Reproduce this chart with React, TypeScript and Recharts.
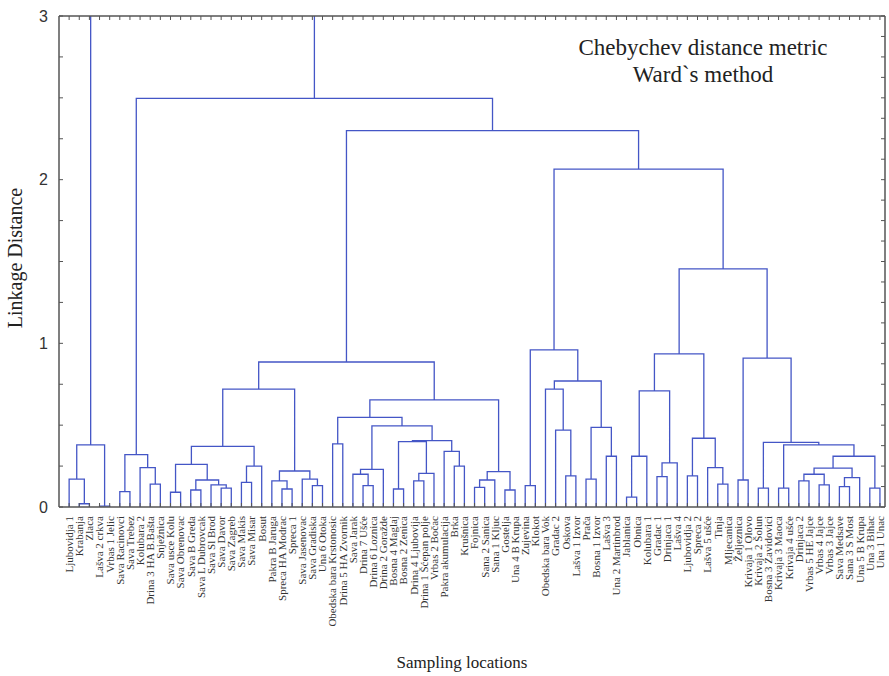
import React from 'react';
import { LineChart, Line, XAxis, YAxis } from 'recharts';

// sampling locations in dendrogram order (left to right)
const leafNames = [
  'Ljubovidja 1', 'Krabanja', 'Zlaca', 'Lašva 2 crkva', 'Vrbas 1 Jelic', 'Sava Racinovci', 'Sava Trebez',
  'Kolubara 2', 'Drina 3 HA B.Bašta', 'Snježnica', 'Sava usce Kolu', 'Sava Obrenovac', 'Sava B Greda',
  'Sava L Dubrovcak', 'Sava Sl Brod', 'Sava Davor', 'Sava Zagreb', 'Sava Makis', 'Sava Misar', 'Bosut',
  'Pakra B Jaruga', 'Spreca HA Modrac', 'Spreca 1', 'Sava Jasenovac', 'Sava Gradiska', 'Una 6 Otoka',
  'Obedska bara Krstonosic', 'Drina 5 HA Zvornik', 'Sava Jarak', 'Drina 7 Ušće', 'Drina 6 Loznica',
  'Drina 2 Goražde', 'Bosna 4 Maglaj', 'Bosna 2 Zenica', 'Drina 4 Ljubovija', 'Drina 1 Šćepan polje',
  'Vrbas 2 Bočac', 'Pakra akumulacija', 'Brka', 'Krušnica', 'Fojnica', 'Sana 2 Sanica', 'Sana 1 Kljuc',
  'Gostelja', 'Una 4 B Krupa', 'Zujevina', 'Klokot', 'Obedska bara Vok', 'Gradac 2', 'Oskova',
  'Lašva 1 Izvor', 'Prača', 'Bosna 1 Izvor', 'Lašva 3', 'Una 2 Martinbrod', 'Jablanica', 'Obnica',
  'Kolubara 1', 'Gradac 1', 'Drinjaca 1', 'Lašva 4', 'Ljubovidja 2', 'Spreca 2', 'Lašva 5 ušće', 'Tinja',
  'Mljecanica', 'Željeznica', 'Krivaja 1 Olovo', 'Krivaja 2 Šolun', 'Bosna 3 Zavidovici', 'Krivaja 3 Maoca',
  'Krivaja 4 ušće', 'Drinjaca 2', 'Vrbas 5 HE Jajce', 'Vrbas 4 Jajce', 'Vrbas 3 Jajce', 'Sava Medsave',
  'Sana 3 S Most', 'Una 5 B Krupa', 'Una 3 Bihac', 'Una 1 Unac',
];

// linkage: [id, left, right, height]; numbers = leaf position (1-based), strings = earlier merges
const merges: [string, number | string, number | string, number][] = [
  ['m1', 2, 3, 0.02], ['m2', 1, 'm1', 0.17], ['m3', 4, 5, 0.005], ['m4', 'm2', 'm3', 0.38],
  ['m5', 6, 7, 0.094], ['m6', 9, 10, 0.14], ['m7', 8, 'm6', 0.24], ['m8', 'm5', 'm7', 0.32],
  ['m9', 11, 12, 0.09], ['m10', 13, 14, 0.104], ['m11', 16, 17, 0.115], ['m12', 15, 'm11', 0.135],
  ['m13', 'm10', 'm12', 0.165], ['m14', 'm9', 'm13', 0.26], ['m15', 18, 19, 0.15], ['m16', 'm15', 20, 0.25],
  ['m17', 'm14', 'm16', 0.37],
  ['m18', 22, 23, 0.11], ['m19', 21, 'm18', 0.16], ['m20', 25, 26, 0.13], ['m21', 24, 'm20', 0.17],
  ['m22', 'm19', 'm21', 0.22], ['m23', 'm17', 'm22', 0.72],
  ['m24', 27, 28, 0.386], ['m25', 30, 31, 0.13], ['m26', 29, 'm25', 0.2], ['m27', 'm26', 32, 0.23],
  ['m28', 33, 34, 0.11], ['m29', 35, 36, 0.16], ['m30', 'm29', 37, 0.206], ['m31', 'm28', 'm30', 0.4],
  ['m32', 39, 40, 0.25], ['m33', 38, 'm32', 0.34], ['m34', 'm31', 'm33', 0.405], ['m35', 'm27', 'm34', 0.496],
  ['m36', 'm24', 'm35', 0.547], ['m37', 41, 42, 0.12], ['m38', 'm37', 43, 0.165], ['m39', 44, 45, 0.104],
  ['m40', 'm38', 'm39', 0.216], ['m41', 'm36', 'm40', 0.655], ['m42', 'm23', 'm41', 0.886],
  ['m43', 46, 47, 0.13], ['m44', 50, 51, 0.19], ['m45', 49, 'm44', 0.47], ['m46', 48, 'm45', 0.72],
  ['m47', 52, 53, 0.17], ['m48', 54, 55, 0.31], ['m49', 'm47', 'm48', 0.486], ['m50', 'm46', 'm49', 0.77],
  ['m51', 'm43', 'm50', 0.96],
  ['m52', 56, 57, 0.06], ['m53', 'm52', 58, 0.31], ['m54', 59, 60, 0.185], ['m55', 'm54', 61, 0.27],
  ['m56', 'm53', 'm55', 0.71], ['m57', 62, 63, 0.19], ['m58', 65, 66, 0.14], ['m59', 64, 'm58', 0.24],
  ['m60', 'm57', 'm59', 0.42], ['m61', 'm56', 'm60', 0.935],
  ['m62', 67, 68, 0.165], ['m63', 69, 70, 0.115], ['m64', 71, 72, 0.115], ['m65', 73, 74, 0.16],
  ['m66', 75, 76, 0.135], ['m67', 'm65', 'm66', 0.2], ['m68', 77, 78, 0.125], ['m69', 'm68', 79, 0.18],
  ['m70', 'm67', 'm69', 0.237], ['m71', 80, 81, 0.115], ['m72', 'm70', 'm71', 0.31], ['m73', 'm64', 'm72', 0.38],
  ['m74', 'm63', 'm73', 0.395], ['m75', 'm62', 'm74', 0.91], ['m76', 'm61', 'm75', 1.455],
  ['m77', 'm51', 'm76', 2.064], ['m78', 'm42', 'm77', 2.3], ['m79', 'm8', 'm78', 2.497],
  ['m80', 'm4', 'm79', 3.6],
];

const yTicks = [0, 0.25, 0.5, 0.75, 1, 1.25, 1.5, 1.75, 2, 2.25, 2.5, 2.75, 3];
const yTicksRight = [
  0, 0.125, 0.25, 0.375, 0.5, 0.625, 0.75, 0.875, 1, 1.125, 1.25, 1.375, 1.5, 1.625, 1.75, 1.875,
  2, 2.125, 2.25, 2.375, 2.5, 2.625, 2.75, 2.875, 3,
];
const leafTicks = leafNames.map((_, i) => i + 1);

// turn the linkage into U-shaped segments, separated by null points
const buildSegments = () => {
  const pos: Record<string, { x: number; h: number }> = {};
  leafNames.forEach((_, i) => { pos[String(i + 1)] = { x: i + 1, h: 0 }; });
  const pts: { x: number; y: number | null }[] = [];
  merges.forEach(([id, a, b, h]) => {
    const l = pos[String(a)];
    const r = pos[String(b)];
    pts.push({ x: l.x, y: l.h }, { x: l.x, y: h }, { x: r.x, y: h }, { x: r.x, y: r.h }, { x: r.x, y: null });
    pos[id] = { x: (l.x + r.x) / 2, h };
  });
  return pts;
};

const segments = buildSegments();

const serif = '"Liberation Serif", "Times New Roman", serif';
const sans = '"Liberation Sans", Arial, sans-serif';
const frame = '#555';

const LeafTick = (props: any) => {
  const { x, y, payload } = props;
  const name = leafNames[payload.value - 1];
  return (
    <g>
      <line x1={x} x2={x} y1={y} y2={y - 4} stroke={frame} strokeWidth={1} />
      <text
        x={x}
        y={y + 9}
        dy="0.35em"
        textAnchor="end"
        transform={`rotate(-90, ${x}, ${y + 9})`}
        fontSize={11}
        fontFamily={serif}
        fill="#333"
      >
        {name}
      </text>
    </g>
  );
};

const LeftTick = (props: any) => {
  const { x, y, payload } = props;
  return (
    <g>
      <line x1={x} x2={x + 4} y1={y} y2={y} stroke={frame} strokeWidth={1} />
      {Number.isInteger(payload.value) && (
        <text x={x - 11} y={y} dy="0.35em" textAnchor="end" fontSize={16} fontFamily={sans} fill="#333">
          {payload.value}
        </text>
      )}
    </g>
  );
};

const App: React.FC = () => {
  return (
    <div style={{ position: 'absolute', left: 0, top: 0, width: 889, height: 676, background: '#fff' }}>
      <LineChart
        width={889}
        height={676}
        data={segments}
        margin={{ top: 16, right: 4, left: 0, bottom: 0 }}
      >
        <XAxis
          dataKey="x"
          type="number"
          domain={[0, 81.5]}
          ticks={leafTicks}
          interval={0}
          allowDataOverflow
          height={169}
          axisLine={{ stroke: frame, strokeWidth: 1.5 }}
          tickLine={false}
          tickSize={0}
          tickMargin={0}
          tick={LeafTick}
        />
        <XAxis
          xAxisId="top"
          orientation="top"
          mirror
          height={1}
          dataKey="x"
          type="number"
          domain={[0, 81.5]}
          ticks={leafTicks}
          interval={0}
          allowDataOverflow
          axisLine={{ stroke: frame, strokeWidth: 1.5 }}
          tickLine={{ stroke: frame }}
          tickSize={4}
          tickFormatter={() => ''}
        />
        <YAxis
          type="number"
          domain={[0, 3]}
          ticks={yTicks}
          interval={0}
          allowDataOverflow
          width={59}
          axisLine={{ stroke: frame, strokeWidth: 1.5 }}
          tickLine={false}
          tickSize={0}
          tickMargin={0}
          tick={LeftTick}
        />
        <YAxis
          yAxisId="right"
          orientation="right"
          mirror
          width={1}
          type="number"
          domain={[0, 3]}
          ticks={yTicksRight}
          interval={0}
          allowDataOverflow
          axisLine={{ stroke: frame, strokeWidth: 1.5 }}
          tickLine={{ stroke: frame }}
          tickSize={4}
          tickFormatter={() => ''}
        />
        <Line
          type="linear"
          dataKey="y"
          stroke="#4456c6"
          strokeWidth={1.3}
          dot={false}
          activeDot={false}
          connectNulls={false}
          isAnimationActive={false}
        />
        <text x={703} y={55} textAnchor="middle" fontSize={23} fontFamily={serif} fill="#222">
          Chebychev distance metric
        </text>
        <text x={703} y={82} textAnchor="middle" fontSize={23} fontFamily={serif} fill="#222">
          Ward`s method
        </text>
        <text
          x={22}
          y={258}
          textAnchor="middle"
          transform="rotate(-90, 22, 258)"
          fontSize={20}
          fontFamily={serif}
          fill="#222"
        >
          Linkage Distance
        </text>
        <text x={462} y={668} textAnchor="middle" fontSize={17} fontFamily={serif} fill="#222">
          Sampling locations
        </text>
      </LineChart>
    </div>
  );
};

export default App;
